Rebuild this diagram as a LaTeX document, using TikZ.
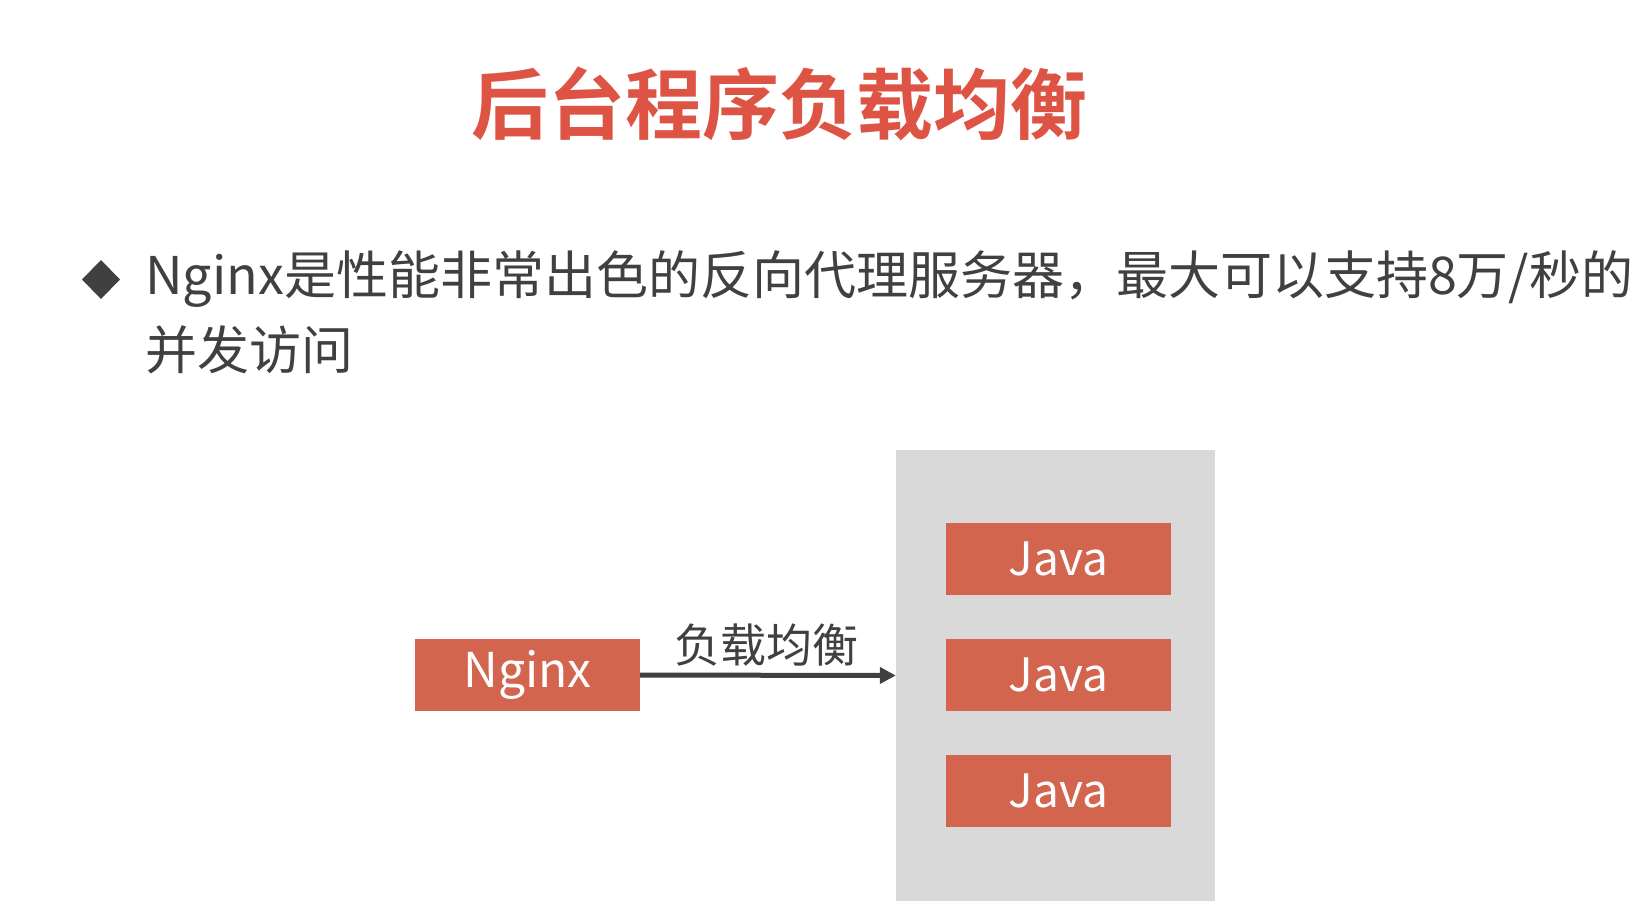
\documentclass[tikz,border=0pt]{standalone}
\usepackage{fontspec}
\setmainfont{Noto Sans CJK SC}
\newfontfamily\cjkbold{Noto Sans CJK SC Bold}
\usetikzlibrary{arrows.meta}
\definecolor{titlered}{HTML}{DE5444}
\definecolor{boxred}{HTML}{D3644E}
\definecolor{panelgray}{HTML}{D9D9D9}
\definecolor{textgray}{HTML}{404040}
\tikzset{
  redbox/.style={fill=boxred, draw=none, minimum width=225pt, minimum height=72pt, inner sep=0pt, text=white, font=\fontsize{46}{50}\selectfont},
  body/.style={text=textgray, inner sep=0pt, anchor=west, font=\fontsize{52}{60}\selectfont},
  flow/.style={draw=textgray, line width=5pt, -{Triangle[length=16pt,width=16pt]}}
}
\begin{document}
\begin{tikzpicture}[x=1pt,y=-1pt]
\useasboundingbox[fill=white] (0,0) rectangle (1643,914);
% title
\node[text=titlered, inner sep=0pt, font=\cjkbold\fontsize{77}{80}\selectfont] (title) at (779,104) {后台程序负载均衡};
% bullet
\fill[textgray] (101,260) -- (120,279.5) -- (101,299) -- (82,279.5) -- cycle;
\node[body] (line1) at (145,279) {Nginx是性能非常出色的反向代理服务器，最大可以支持8万/秒的};
\node[body] (line2) at (145,350) {并发访问};
% diagram
\node[fill=panelgray, draw=none, minimum width=319pt, minimum height=451pt, inner sep=0pt] (panel) at (1055.5,675.5) {};
\node[redbox] (java1) at (1058.5,558.5) {Java};
\node[redbox] (java2) at (1058.5,674.5) {Java};
\node[redbox] (java3) at (1058.5,791) {Java};
\node[redbox, font=\fontsize{48}{50}\selectfont] (nginx) at (527.5,675) {Nginx};
\draw[flow] (nginx.east) -- (panel.west);
\node[text=textgray, inner sep=0pt, font=\fontsize{46}{50}\selectfont] (lbl) at (766,645) {负载均衡};
\end{tikzpicture}
\end{document}
